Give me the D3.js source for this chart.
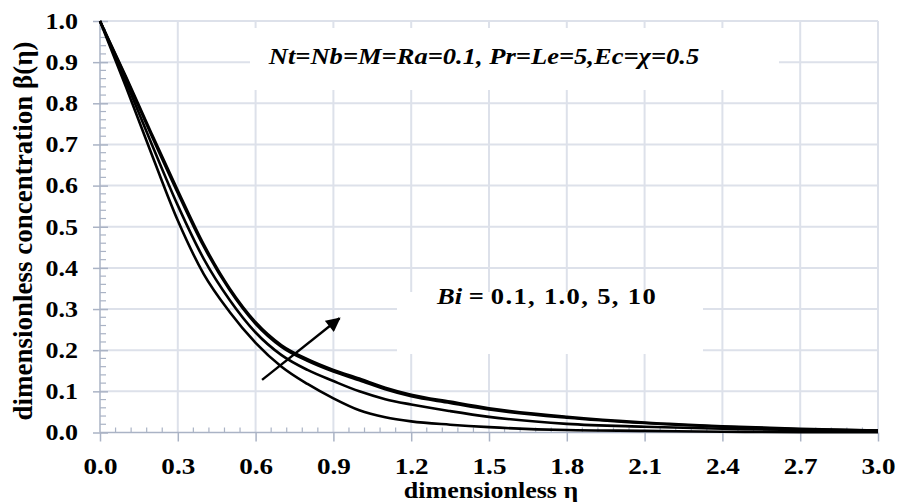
<!DOCTYPE html>
<html>
<head>
<meta charset="utf-8">
<script src="https://cdn.jsdelivr.net/npm/d3@7/dist/d3.min.js"></script>
<style>
  html, body { margin: 0; padding: 0; background: #fff; }
  svg { display: block; }
  text { font-family: "Liberation Serif", "Times New Roman", serif; }
</style>
</head>
<body>
<svg id="chart" width="899" height="502"></svg>
<script>
// ---- data ----
const eta = [0, 0.1, 0.2, 0.3, 0.4, 0.5, 0.6, 0.7, 0.8, 0.9, 1.0, 1.1, 1.2, 1.35, 1.5, 1.8, 2.1, 2.4, 2.7, 3.0];
const bi01 = [1.0, 0.84, 0.675, 0.515, 0.385, 0.293, 0.218, 0.160, 0.118, 0.083, 0.054, 0.037, 0.027, 0.019, 0.013, 0.006, 0.004, 0.002, 0.001, 0.001];
const bi10 = [1.0, 0.853, 0.700, 0.552, 0.422, 0.322, 0.243, 0.188, 0.152, 0.125, 0.100, 0.081, 0.068, 0.052, 0.038, 0.021, 0.014, 0.009, 0.006, 0.004];
const bi5  = [1.0, 0.862, 0.720, 0.582, 0.452, 0.346, 0.264, 0.208, 0.174, 0.148, 0.127, 0.105, 0.088, 0.072, 0.056, 0.036, 0.023, 0.014, 0.008, 0.005];
const bi100 = [1.0, 0.865, 0.725, 0.588, 0.457, 0.350, 0.268, 0.212, 0.178, 0.152, 0.131, 0.109, 0.092, 0.075, 0.059, 0.038, 0.024, 0.015, 0.009, 0.005];
const seriesList = [bi01, bi10, bi5, bi100];
const xTicks = [0.0, 0.3, 0.6, 0.9, 1.2, 1.5, 1.8, 2.1, 2.4, 2.7, 3.0];
const yTicks = [0.0, 0.1, 0.2, 0.3, 0.4, 0.5, 0.6, 0.7, 0.8, 0.9, 1.0];
const xTitle = "dimensionless η";
const yTitle = "dimensionless concentration β(η)";
const paramText = "Nt=Nb=M=Ra=0.1, Pr=Le=5,Ec=χ=0.5";
const biName = "Bi";
const biValues = "0.1, 1.0, 5, 10";
const arrowFrom = [0.625, 0.128];
const arrowTo = [0.9235, 0.2775];

// ---- layout ----
const svg = d3.select("#chart");
const L = 100, R = 878, T = 21, B = 432.5;
const SX = 1.13; // horizontal text stretch seen in the reference
const x = d3.scaleLinear().domain([0, 3]).range([L, R]);
const y = d3.scaleLinear().domain([0, 1]).range([B, T]);
const gridColor = "#dde1ea";
const axisColor = "#aab3c5";

// gridlines
const grid = svg.append("g");
grid.selectAll("line.v").data(xTicks.slice(1)).enter().append("line")
  .attr("x1", d => x(d)).attr("x2", d => x(d)).attr("y1", T).attr("y2", B)
  .attr("stroke", gridColor).attr("stroke-width", 2);
grid.selectAll("line.h").data(yTicks.slice(1)).enter().append("line")
  .attr("x1", L).attr("x2", R).attr("y1", d => y(d)).attr("y2", d => y(d))
  .attr("stroke", gridColor).attr("stroke-width", 2);

// white boxes behind annotations
svg.append("rect").attr("x", 250).attr("y", 28).attr("width", 529).attr("height", 62).attr("fill", "#fff");
svg.append("rect").attr("x", 397).attr("y", 292).attr("width", 306).attr("height", 62).attr("fill", "#fff");

// axes
const yAxis = d3.axisLeft(y).tickValues(yTicks).tickSize(7).tickFormat(d3.format(".1f"));
const gy = svg.append("g").attr("transform", `translate(${L},0)`).call(yAxis);
gy.select(".domain").attr("stroke", axisColor).attr("stroke-width", 1.5).attr("d", `M0,${B}V${T}`);
gy.selectAll(".tick line").attr("stroke", axisColor).attr("stroke-width", 1.5).attr("x1", 8);
gy.selectAll(".tick text").attr("x", -22 / SX).attr("transform", `scale(${SX},1)`)
  .attr("font-size", 23).attr("font-weight", "bold").attr("fill", "#000")
  .attr("font-family", "Liberation Serif");

const xAxis = d3.axisBottom(x).tickValues(xTicks).tickSize(9).tickFormat(d3.format(".1f"));
const gx = svg.append("g").attr("transform", `translate(0,${B})`).call(xAxis);
gx.select(".domain").attr("stroke", axisColor).attr("stroke-width", 1.5).attr("d", `M${L},0H${R}`);
gx.selectAll(".tick line").attr("stroke", axisColor).attr("stroke-width", 1.5);
gx.selectAll(".tick text").attr("y", 41.5).attr("dy", null).attr("transform", `scale(${SX},1)`)
  .attr("font-size", 24).attr("font-weight", "bold").attr("fill", "#000")
  .attr("font-family", "Liberation Serif");

// minor ticks
const yMinor = d3.range(0, 1.0001, 0.02).filter(v => Math.abs(v * 10 - Math.round(v * 10)) > 1e-6);
svg.append("g").selectAll("line").data(yMinor).enter().append("line")
  .attr("x1", L).attr("x2", L + 6).attr("y1", d => y(d)).attr("y2", d => y(d))
  .attr("stroke", axisColor).attr("stroke-width", 1.2);
const xMinor = d3.range(0, 3.0001, 0.06).filter(v => Math.abs(v / 0.3 - Math.round(v / 0.3)) > 1e-6);
svg.append("g").selectAll("line").data(xMinor).enter().append("line")
  .attr("x1", d => x(d)).attr("x2", d => x(d)).attr("y1", B).attr("y2", B - 5)
  .attr("stroke", axisColor).attr("stroke-width", 1.2);

// curves
const line = d3.line().x((d, i) => x(eta[i])).y(d => y(d)).curve(d3.curveMonotoneX);
svg.append("g").selectAll("path").data(seriesList).enter().append("path")
  .attr("d", d => line(d)).attr("fill", "none").attr("stroke", "#000").attr("stroke-width", 2.6);

// arrow
svg.append("defs").append("marker").attr("id", "ah").attr("viewBox", "0 0 10 10")
  .attr("refX", 9).attr("refY", 5).attr("markerWidth", 6.5).attr("markerHeight", 6)
  .attr("markerUnits", "strokeWidth").attr("orient", "auto")
  .append("path").attr("d", "M0,0L10,5L0,10z").attr("fill", "#000");
svg.append("line")
  .attr("x1", x(arrowFrom[0])).attr("y1", y(arrowFrom[1]))
  .attr("x2", x(arrowTo[0])).attr("y2", y(arrowTo[1]))
  .attr("stroke", "#000").attr("stroke-width", 2.4).attr("marker-end", "url(#ah)");

// annotations
svg.append("g").attr("transform", "translate(484,63.5)")
  .append("text").attr("transform", `scale(${SX},1)`).attr("text-anchor", "middle")
  .attr("font-size", 23.5).attr("font-weight", "bold").attr("font-style", "italic").text(paramText);

const bt = svg.append("g").attr("transform", "translate(437,304)")
  .append("text").attr("transform", `scale(${SX},1)`).attr("font-size", 23.5).attr("font-weight", "bold");
bt.append("tspan").attr("font-style", "italic").text(biName);
bt.append("tspan").attr("dx", 6).text("=");
bt.append("tspan").attr("dx", 6).attr("letter-spacing", 1.2).text(biValues);

// axis titles
svg.append("g").attr("transform", "translate(491,498)")
  .append("text").attr("transform", `scale(${SX},1)`).attr("text-anchor", "middle")
  .attr("font-size", 23).attr("font-weight", "bold").text(xTitle);
svg.append("text").attr("transform", `translate(32,231) rotate(-90)`).attr("text-anchor", "middle")
  .attr("font-size", 27).attr("font-weight", "bold").text(yTitle);
</script>
</body>
</html>
